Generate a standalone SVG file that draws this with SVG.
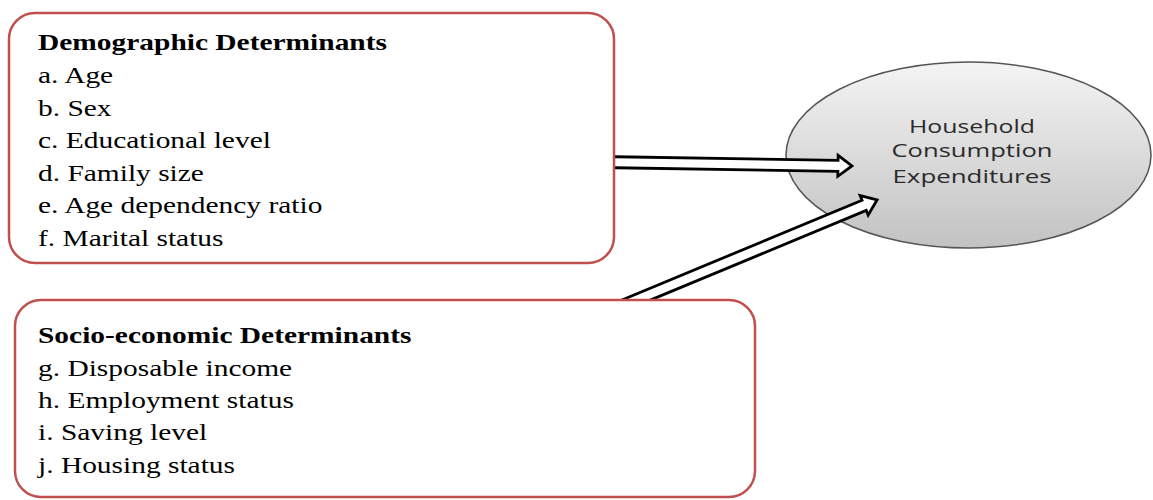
<svg xmlns="http://www.w3.org/2000/svg" width="1153" height="500" viewBox="0 0 1153 500">
<style>
.box{fill:#ffffff;stroke:#c0504d;stroke-width:2.5}
.arrow{fill:#ffffff;stroke:#000000;stroke-width:2.8;stroke-linejoin:miter}
.t{font-family:"Liberation Serif","Times New Roman",serif;font-size:23px;fill:#000}
.b{font-weight:bold}
.e{font-family:"Open Sans","Liberation Sans",Arial,sans-serif;font-size:19px;fill:#2b2b2b;text-anchor:middle}
</style>
<defs>
<linearGradient id="g" x1="0" y1="0" x2="0" y2="1">
<stop offset="0" stop-color="#f4f4f4"/>
<stop offset="1" stop-color="#c2c2c2"/>
</linearGradient>
</defs>
<g id="household">
<ellipse cx="968.5" cy="155" rx="182.5" ry="93" fill="url(#g)" stroke="#555" stroke-width="1.5"/>
<text class="e" x="972" y="133" textLength="126" lengthAdjust="spacingAndGlyphs">Household</text>
<text class="e" x="972" y="157" textLength="161" lengthAdjust="spacingAndGlyphs">Consumption</text>
<text class="e" x="972" y="183" textLength="159" lengthAdjust="spacingAndGlyphs">Expenditures</text>
</g>
<g id="connectors">
<path class="arrow" transform="translate(600 162) rotate(0.91)" d="M0,-5.5 L238,-5.5 L238,-10.5 L252,0 L238,10.5 L238,5.5 L0,5.5 Z"/>
<path class="arrow" transform="translate(612 310) rotate(-22.54)" d="M0,-5.5 L273,-5.5 L273,-10.5 L287,0 L273,10.5 L273,5.5 L0,5.5 Z"/>
</g>
<g id="demographic">
<rect class="box" x="9" y="13" width="605" height="250" rx="26" ry="26"/>
<g transform="translate(38 0) scale(1.28 1)">
<text class="t b" x="0" y="50">Demographic Determinants</text>
<text class="t" x="0" y="83">a. Age</text>
<text class="t" x="0" y="116">b. Sex</text>
<text class="t" x="0" y="148">c. Educational level</text>
<text class="t" x="0" y="181">d. Family size</text>
<text class="t" x="0" y="213">e. Age dependency ratio</text>
<text class="t" x="0" y="246">f. Marital status</text>
</g>
</g>
<g id="socioeconomic">
<rect class="box" x="15" y="300" width="740" height="197" rx="26" ry="26"/>
<g transform="translate(38 0) scale(1.28 1)">
<text class="t b" x="0" y="343">Socio-economic Determinants</text>
<text class="t" x="0" y="376">g. Disposable income</text>
<text class="t" x="0" y="408">h. Employment status</text>
<text class="t" x="0" y="440">i. Saving level</text>
<text class="t" x="0" y="473">j. Housing status</text>
</g>
</g>
</svg>
